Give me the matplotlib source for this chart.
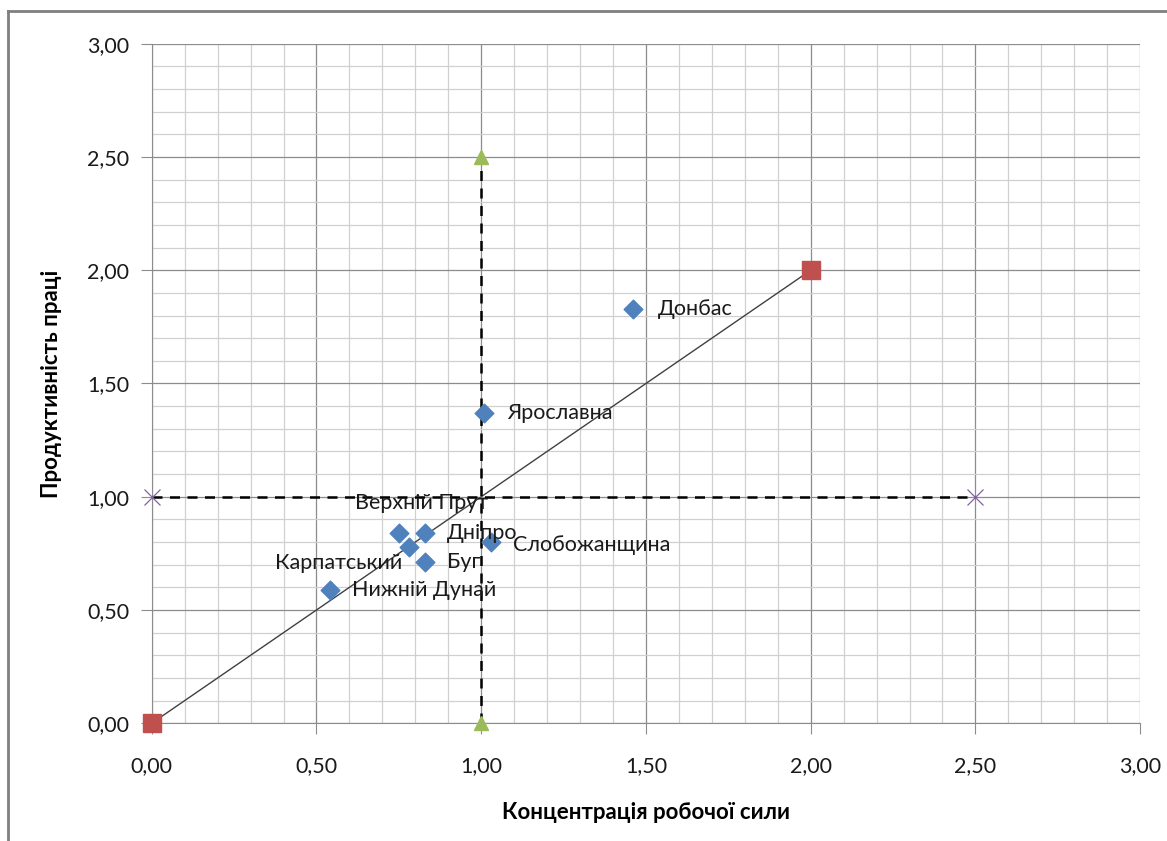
import matplotlib
matplotlib.use("Agg")
import matplotlib.pyplot as plt
from matplotlib.lines import Line2D
from matplotlib.ticker import MultipleLocator, FuncFormatter

plt.rcParams['font.family'] = ['Lato', 'Open Sans', 'DejaVu Sans']

# regions: concentration of labour force vs labour productivity
regions = ['Донбас', 'Ярославна', 'Слобожанщина', 'Дніпро', 'Верхній Прут',
           'Карпатський', 'Буг', 'Нижній Дунай']
conc = [1.46, 1.01, 1.03, 0.83, 0.75, 0.78, 0.83, 0.54]
prod = [1.83, 1.37, 0.80, 0.84, 0.84, 0.78, 0.71, 0.59]

# reference lines
diag_x = [0.0, 2.0]
diag_y = [0.0, 2.0]
vert_x = [1.0, 1.0]
vert_y = [0.0, 2.5]
horiz_x = [0.0, 2.5]
horiz_y = [1.0, 1.0]

# label offsets in pixels (dx, dy, ha)
offsets = [(25, 0, 'left'), (23, 0, 'left'), (22, -3, 'left'), (22, 0, 'left'),
           (23, 30, 'center'), (-6, -16, 'right'), (22, 0, 'left'), (22, 0, 'left')]

fig = plt.figure(figsize=(11.67, 8.41), dpi=100)
ax = fig.add_axes([0.130, 0.140, 0.847, 0.808])

ax.plot(diag_x, diag_y, color='#404040', linewidth=1.0, marker='s', markersize=13,
        markerfacecolor='#C0504D', markeredgecolor='#C0504D', zorder=3, clip_on=False)
ax.plot(vert_x, vert_y, color='black', linewidth=1.8, linestyle=(0, (4, 3)), marker='^',
        markersize=10, markerfacecolor='#9BBB59', markeredgecolor='#9BBB59', zorder=3,
        clip_on=False)
ax.plot(horiz_x, horiz_y, color='black', linewidth=1.8, linestyle=(0, (4, 3)), zorder=3)
ax.plot(horiz_x, horiz_y, linestyle='none', marker='x', markersize=12,
        markeredgecolor='#8064A2', markeredgewidth=0.9, zorder=4, clip_on=False)
ax.scatter(conc, prod, marker='D', s=90, color='#4F81BD', zorder=5)

for name, x, y, (dx, dy, ha) in zip(regions, conc, prod, offsets):
    ax.annotate(name, (x, y), xytext=(dx, dy), textcoords='offset pixels',
                ha=ha, va='center', fontsize=15.5, color='#1a1a1a', zorder=6)

ax.set_xlim(0, 3)
ax.set_ylim(0, 3)
ax.xaxis.set_major_locator(MultipleLocator(0.5))
ax.yaxis.set_major_locator(MultipleLocator(0.5))
ax.xaxis.set_minor_locator(MultipleLocator(0.1))
ax.yaxis.set_minor_locator(MultipleLocator(0.1))
fmt = FuncFormatter(lambda v, p: f'{v:.2f}'.replace('.', ','))
ax.xaxis.set_major_formatter(fmt)
ax.yaxis.set_major_formatter(fmt)

ax.grid(which='major', color='#8c8c8c', linewidth=0.9)
ax.grid(which='minor', color='#d0d0d0', linewidth=0.9)
ax.set_axisbelow(True)
for s in ['top', 'right']:
    ax.spines[s].set_visible(False)
for s in ['left', 'bottom']:
    ax.spines[s].set_color('#8c8c8c')
ax.tick_params(which='major', length=8, color='#8c8c8c', labelsize=15.5,
               labelcolor='#1a1a1a')
ax.tick_params(which='minor', length=0)
ax.tick_params(axis='y', pad=8)
ax.tick_params(axis='x', pad=16)

ax.set_xlabel('Концентрація робочої сили', fontsize=16, fontweight='bold', labelpad=18)
ax.set_ylabel('Продуктивність праці', fontsize=16, fontweight='bold', labelpad=18)

# outer chart frame (left and top edges visible)
left = 8 / 1167
top = 1 - 11 / 841
fig.add_artist(Line2D([left, left], [0, top], transform=fig.transFigure,
                      color='#7f7f7f', linewidth=2))
fig.add_artist(Line2D([left, 1], [top, top], transform=fig.transFigure,
                      color='#7f7f7f', linewidth=2))

fig.savefig('out.png', dpi=100)
